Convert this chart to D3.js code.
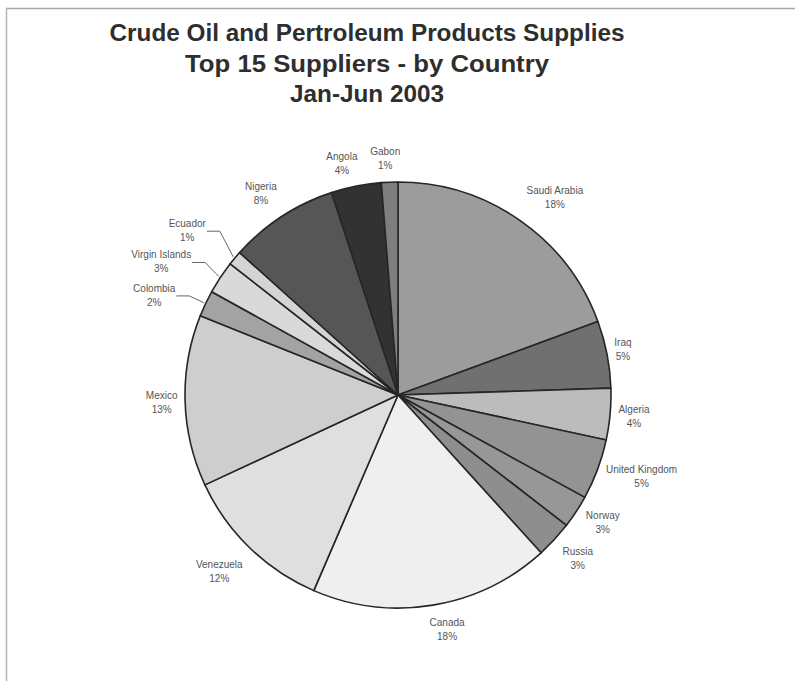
<!DOCTYPE html>
<html>
<head>
<meta charset="utf-8">
<script src="https://cdn.jsdelivr.net/npm/d3@7/dist/d3.min.js"></script>
<style>
  html, body { margin: 0; padding: 0; background: #fff; }
  svg { display: block; }
</style>
</head>
<body>
<svg id="chart" width="795" height="681"></svg>
<script>
// ---- data (clockwise from 12 o'clock) ----
const countries = ["Saudi Arabia", "Iraq", "Algeria", "United Kingdom", "Norway", "Russia",
  "Canada", "Venezuela", "Mexico", "Colombia", "Virgin Islands", "Ecuador", "Nigeria", "Angola", "Gabon"];
// slice sizes as drawn in the picture (share, %)
const sliceShares = [19.4, 5.1, 3.9, 4.6, 2.5, 2.8, 18.2, 11.6, 13.0, 2.0, 2.5, 1.1, 8.3, 3.8, 1.25];
// percentage labels as printed
const percentLabels = ["18%", "5%", "4%", "5%", "3%", "3%", "18%", "12%", "13%", "2%", "3%", "1%", "8%", "4%", "1%"];
const titleLines = ["Crude Oil and Pertroleum Products Supplies", "Top 15 Suppliers - by Country", "Jan-Jun 2003"];

// ---- styling / layout ----
const sliceColors = ["#9c9c9c", "#707070", "#bcbcbc", "#939393", "#979797", "#8e8e8e",
  "#efefef", "#dfdfdf", "#cecece", "#a3a3a3", "#d9d9d9", "#d4d4d4", "#565656", "#323232", "#7e7e7e"];
// label placement: polar [angle in degrees clockwise from north, radius]
const labelPolar = {
  "Saudi Arabia": [38.5, 252], "Iraq": [78.6, 229.5], "Algeria": [95.2, 237], "United Kingdom": [108.6, 257],
  "Norway": [122, 241.5], "Russia": [132.3, 243], "Canada": [168.2, 240], "Venezuela": [225.4, 251],
  "Mexico": [268.1, 236.5], "Nigeria": [325.8, 244], "Angola": [346.4, 238.7], "Gabon": [356.9, 237]
};
const leaderPolar = { "Colombia": [295.4, 231], "Virgin Islands": [304.5, 234], "Ecuador": [312.6, 242] };

const cx = 398, cy = 395, R = 213;
const svg = d3.select("#chart");

// frame lines (top and left)
svg.append("line").attr("x1", 6).attr("y1", 8.5).attr("x2", 795).attr("y2", 8.5)
  .attr("stroke", "#a8a8a8").attr("stroke-width", 1.5);
svg.append("line").attr("x1", 6.5).attr("y1", 8).attr("x2", 6.5).attr("y2", 681)
  .attr("stroke", "#b4b4b4").attr("stroke-width", 1.5);

// title
const titleWidths = [515, 364, 154];
titleLines.forEach((t, i) => {
  svg.append("text")
    .attr("x", 367).attr("y", 41 + i * 30.5)
    .attr("text-anchor", "middle")
    .attr("font-family", "Liberation Sans, Arial, sans-serif")
    .attr("font-weight", "bold")
    .attr("font-size", 23.5)
    .attr("fill", "#2e2e2e")
    .attr("textLength", titleWidths[i])
    .attr("lengthAdjust", "spacingAndGlyphs")
    .text(t);
});

const data = countries.map((c, i) => ({ name: c, value: sliceShares[i], pct: percentLabels[i], color: sliceColors[i] }));
const pie = d3.pie().sort(null).value(d => d.value).startAngle(0).endAngle(2 * Math.PI);
const arcs = pie(data);
const arc = d3.arc().innerRadius(0).outerRadius(R);

const g = svg.append("g").attr("transform", `translate(${cx},${cy})`);
g.selectAll("path.slice").data(arcs).enter().append("path")
  .attr("class", "slice")
  .attr("d", arc)
  .attr("fill", d => d.data.color)
  .attr("stroke", "#262626")
  .attr("stroke-width", 1.6)
  .attr("stroke-linejoin", "round");

const font = "Liberation Sans, Arial, sans-serif";
const textColor = "#555";
function pt(angle, r) { return [r * Math.sin(angle), -r * Math.cos(angle)]; }
const rad = deg => deg * Math.PI / 180;

arcs.forEach(d => {
  const mid = (d.startAngle + d.endAngle) / 2;
  const name = d.data.name;
  if (leaderPolar[name]) {
    const [ex, ey] = pt(mid, R + 2);
    const [bx, by] = pt(rad(leaderPolar[name][0]), leaderPolar[name][1]);
    const hx = bx - 13;
    g.append("polyline")
      .attr("points", `${ex},${ey} ${bx},${by} ${hx},${by}`)
      .attr("fill", "none").attr("stroke", "#666").attr("stroke-width", 1);
    const t1 = g.append("text").attr("font-family", font).attr("font-size", 10).attr("fill", textColor)
      .attr("text-anchor", "middle").text(name);
    const w = t1.node().getComputedTextLength();
    const tx = hx - 1 - w / 2;
    t1.attr("x", tx).attr("y", by - 4);
    g.append("text").attr("font-family", font).attr("font-size", 10).attr("fill", textColor)
      .attr("text-anchor", "middle").attr("x", tx).attr("y", by + 10).text(d.data.pct);
  } else {
    const [lx, ly] = pt(rad(labelPolar[name][0]), labelPolar[name][1]);
    g.append("text").attr("font-family", font).attr("font-size", 10).attr("fill", textColor)
      .attr("text-anchor", "middle").attr("x", lx).attr("y", ly - 3.5).text(name);
    g.append("text").attr("font-family", font).attr("font-size", 10).attr("fill", textColor)
      .attr("text-anchor", "middle").attr("x", lx).attr("y", ly + 10.5).text(d.data.pct);
  }
});
</script>
</body>
</html>
